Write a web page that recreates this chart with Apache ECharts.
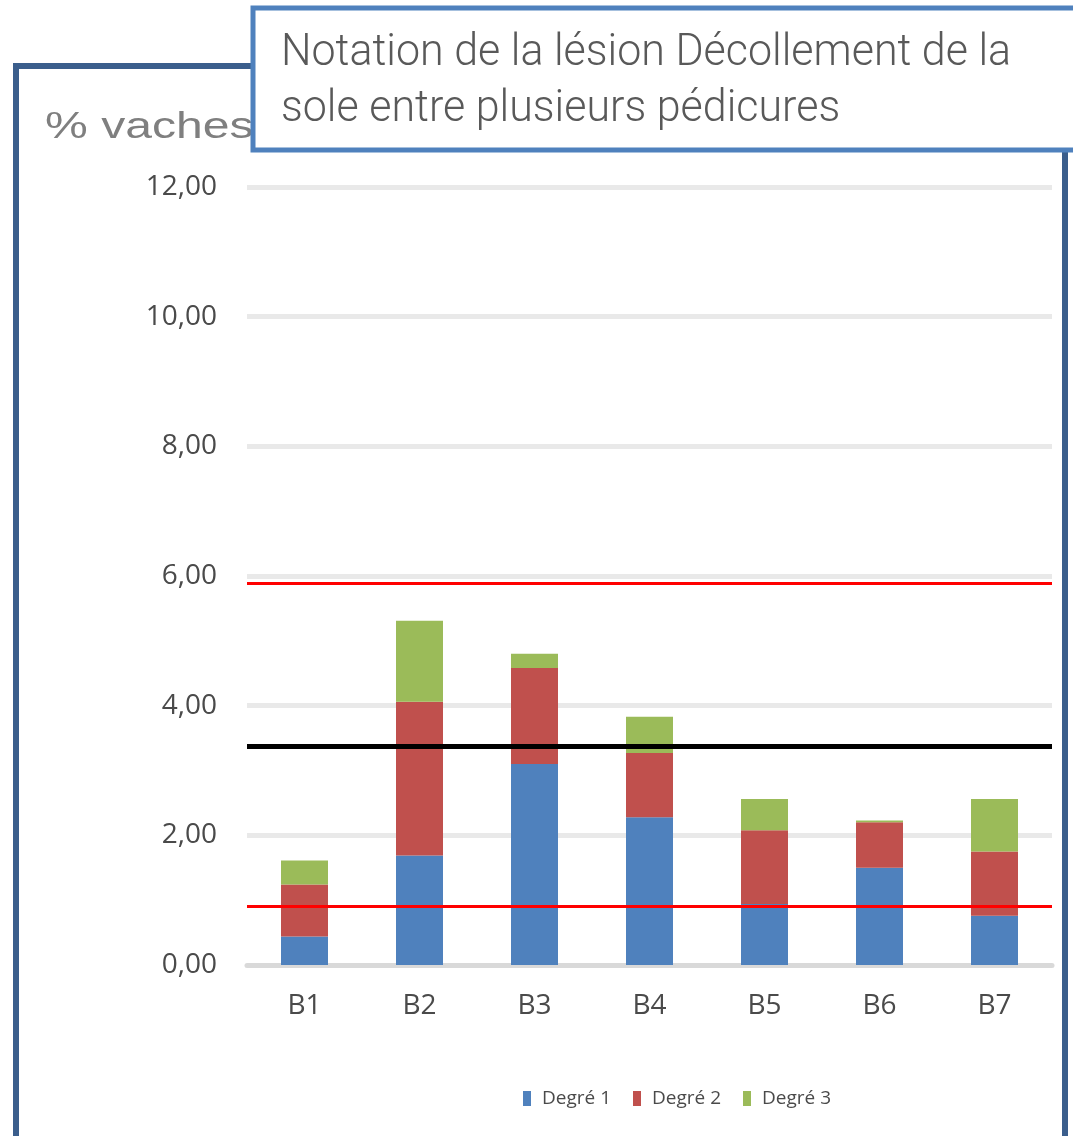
<!DOCTYPE html>
<html>
<head>
<meta charset="utf-8">
<script src="https://cdn.jsdelivr.net/npm/echarts@6/dist/echarts.min.js"></script>
<style>
  html, body { margin: 0; padding: 0; background: #fff; }
  #chart { width: 1073px; height: 1136px; }
</style>
</head>
<body>
<div id="chart"></div>
<script>
// Données
const categories = ['B1', 'B2', 'B3', 'B4', 'B5', 'B6', 'B7']
const degre1 = [0.44, 1.69, 3.10, 2.28, 0.94, 1.50, 0.76]
const degre2 = [0.80, 2.37, 1.48, 0.99, 1.14, 0.70, 0.99]
const degre3 = [0.37, 1.25, 0.22, 0.56, 0.48, 0.03, 0.81]
const seriesNames = ['Degré 1', 'Degré 2', 'Degré 3']

// Lignes de référence
const seuilHaut = 5.89
const moyenne = 3.37
const seuilBas = 0.905

// Axe Y
const yMin = 0
const yMax = 12
const yInterval = 2

const titleLines = ['Notation de la lésion Décollement de la', 'sole entre plusieurs pédicures']
const yName = '% vaches'

const colors = ['#4f81bd', '#c0504d', '#9bbb59']

const chart = echarts.init(document.getElementById('chart'))

const barSeries = [degre1, degre2, degre3].map((vals, i) => ({
  name: seriesNames[i],
  type: 'bar',
  stack: 'total',
  barWidth: 47,
  data: vals,
  itemStyle: { color: colors[i] }
}))

// lignes rouges / noire sur la première série
barSeries[0].markLine = {
  silent: true,
  symbol: 'none',
  label: { show: false },
  data: [
    { yAxis: seuilHaut, lineStyle: { color: '#ff0000', width: 3, type: 'solid' } },
    { yAxis: moyenne, lineStyle: { color: '#000000', width: 5, type: 'solid' } },
    { yAxis: seuilBas, lineStyle: { color: '#ff0000', width: 3, type: 'solid' } }
  ]
}

const option = {
  animation: false,
  grid: { left: 247, right: 21, top: 187, bottom: 171 },
  legend: {
    data: seriesNames,
    left: 518,
    top: 1084,
    itemWidth: 8,
    itemHeight: 15,
    itemGap: 22,
    icon: 'rect',
    textStyle: { fontFamily: 'Open Sans', fontSize: 19, color: '#4a4a4a', padding: [0, 0, 0, 6] }
  },
  xAxis: {
    type: 'category',
    data: categories,
    axisLine: { lineStyle: { color: '#d9d9d9', width: 5 } },
    axisTick: { show: false },
    axisLabel: { fontFamily: 'Open Sans', fontSize: 28, color: '#4a4a4a', margin: 27 }
  },
  yAxis: {
    type: 'value',
    min: yMin,
    max: yMax,
    interval: yInterval,
    axisLine: { show: false },
    axisTick: { show: false },
    splitLine: { lineStyle: { color: '#e9e9e9', width: 5 } },
    axisLabel: {
      fontFamily: 'Open Sans',
      fontSize: 28,
      color: '#4a4a4a',
      margin: 30,
      formatter: v => v.toFixed(2).replace('.', ',')
    }
  },
  graphic: [
    {
      type: 'rect',
      z: 0,
      shape: { x: 16, y: 66, width: 1049, height: 1200 },
      style: { fill: 'none', stroke: '#3b5e8c', lineWidth: 6 }
    },
    {
      type: 'text',
      z: 1,
      x: 45,
      y: 128,
      scaleX: 1.3,
      style: {
        text: yName,
        font: '37px "Liberation Sans"',
        fill: '#7f7f7f',
        verticalAlign: 'middle'
      }
    },
    {
      type: 'rect',
      z: 5,
      shape: { x: 253, y: 8, width: 900, height: 142 },
      style: { fill: '#ffffff', stroke: '#4f81bd', lineWidth: 5 }
    },
    {
      type: 'text',
      z: 6,
      x: 281,
      y: 54,
      scaleX: 0.955,
      style: { text: titleLines[0], font: '300 45px Roboto', fill: '#595959', verticalAlign: 'middle' }
    },
    {
      type: 'text',
      z: 6,
      x: 281,
      y: 110,
      scaleX: 0.955,
      style: { text: titleLines[1], font: '300 45px Roboto', fill: '#595959', verticalAlign: 'middle' }
    }
  ],
  series: barSeries
}

chart.setOption(option)
</script>
</body>
</html>
